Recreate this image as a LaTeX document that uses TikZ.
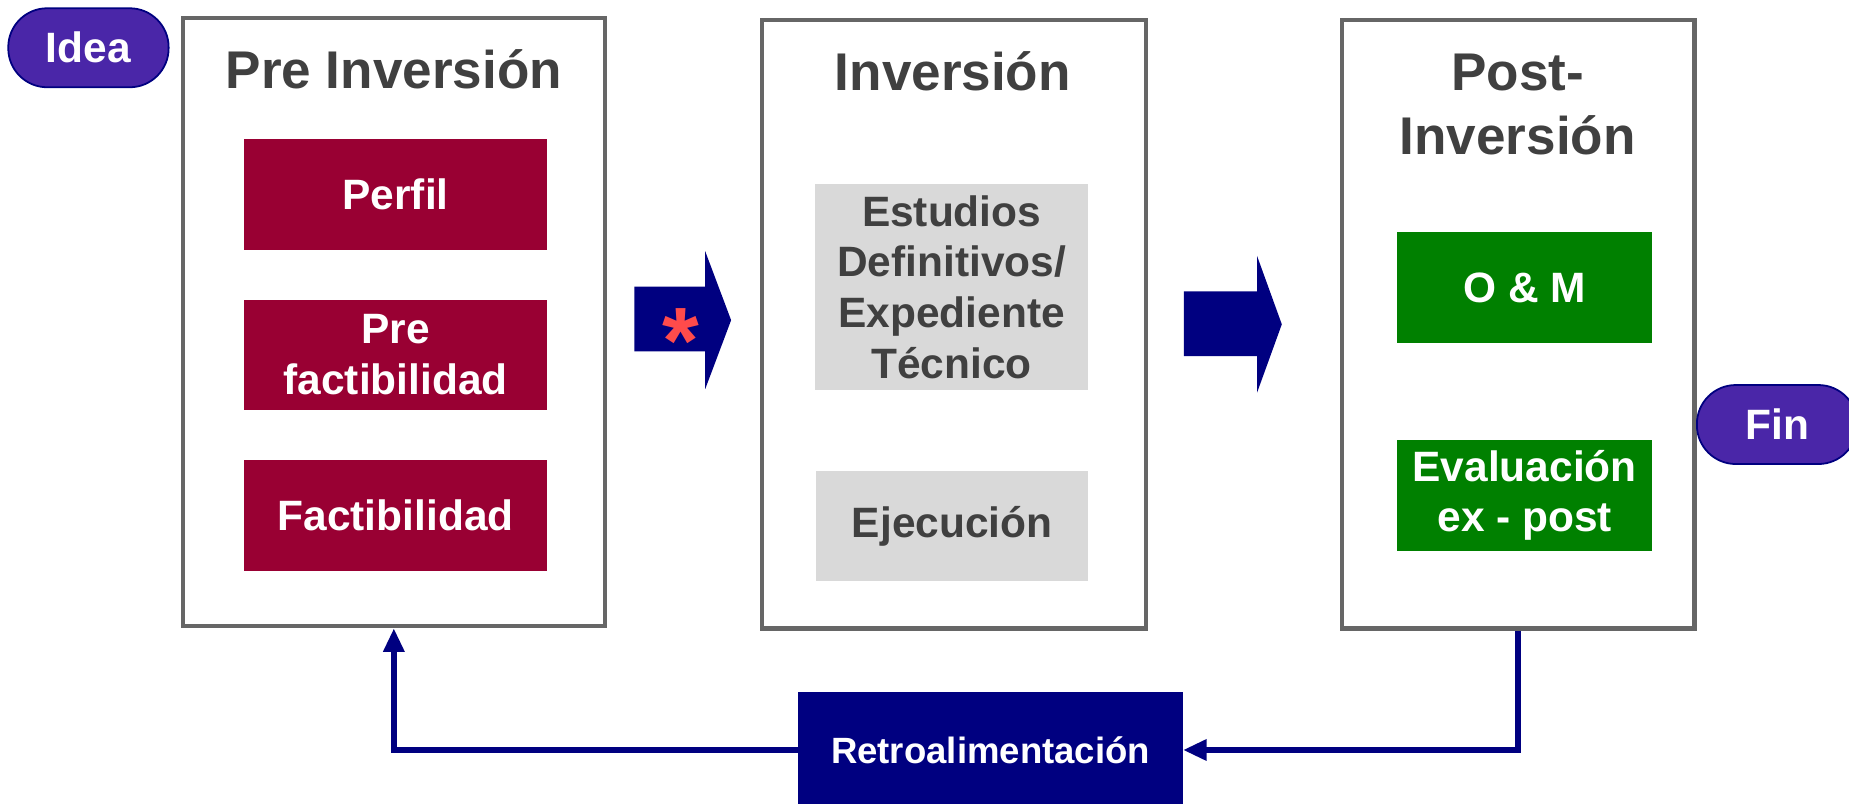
\documentclass[tikz,border=0pt]{standalone}
\usepackage{fontspec}
\setmainfont{Liberation Sans}
\usetikzlibrary{arrows.meta}
\definecolor{preRed}{HTML}{990033}
\definecolor{okGreen}{HTML}{008000}
\definecolor{grayFill}{HTML}{D9D9D9}
\definecolor{navyBlue}{HTML}{000080}
\definecolor{pillPurple}{HTML}{4A26A8}
\definecolor{titleGray}{HTML}{404040}
\definecolor{frameGray}{HTML}{666666}
\definecolor{starRed}{HTML}{FF4B4B}
\begin{document}
\begin{tikzpicture}[x=1pt,y=-1pt,
  frame/.style={draw=frameGray, line width=3.5pt, fill=white, minimum height=516pt, inner sep=0pt},
  phase/.style={font=\bfseries\fontsize{45}{55}\selectfont, text=titleGray, anchor=base, inner sep=0pt},
  stagebox/.style={inner sep=0pt, font=\bfseries\fontsize{36}{43}\selectfont, align=center, minimum height=94pt},
  redbox/.style={stagebox, fill=preRed, text=white, minimum width=257pt},
  graybox/.style={stagebox, fill=grayFill, text=titleGray, minimum width=231pt},
  greenbox/.style={stagebox, fill=okGreen, text=white, minimum width=216pt},
  pill/.style={draw=navyBlue, line width=1.5pt, fill=pillPurple, text=white, rounded corners=33pt,
    minimum width=136pt, minimum height=67pt, inner sep=0pt, font=\bfseries\fontsize{36}{43}\selectfont},
  bigarrow/.style={fill=navyBlue},
  fb/.style={draw=navyBlue, line width=5pt, -{Triangle[length=20pt,width=17pt]}}
]
\useasboundingbox (0,0) rectangle (1568,681);
% phase frames
\node[frame, minimum width=358pt] (pre) at (334,273) {};
\node[frame, minimum width=326pt] (inv) at (809,275) {};
\node[frame, minimum width=299pt] (post) at (1287.5,275) {};
% titles
\node[phase] (preT) at (334,75) {Pre Inversión};
\node[phase] (invT) at (808,77) {Inversión};
\node[phase] (postT1) at (1287,77) {Post-};
\node[phase] (postT2) at (1287,131) {Inversión};
% pre-inversion stages
\node[redbox] (perfil) at (335.5,165) {Perfil};
\node[redbox] (prefact) at (335.5,301) {Pre\\factibilidad};
\node[redbox] (fact) at (335.5,437) {Factibilidad};
% inversion stages
\node[graybox, minimum height=175pt] (estudios) at (807,243.5) {Estudios\\Definitivos/\\Expediente\\Técnico};
\node[graybox] (ejec) at (807.5,446) {Ejecución};
% post stages
\node[greenbox] (om) at (1293,244) {O \& M};
\node[greenbox] (eval) at (1293,420) {Evaluación\\ex - post};
% pills
\node[pill] (idea) at (75,40.5) {Idea};
\node[pill] (fin) at (1507,360) {Fin};
% big arrows
\fill[bigarrow] (538,243) -- (598,243) -- (598,213) -- (620,271.5) -- (598,330) -- (598,298) -- (538,298) -- cycle;
\node[text=starRed, font=\bfseries\fontsize{80}{80}\selectfont, anchor=base, inner sep=0pt] (star) at (577,317) {*};
\fill[bigarrow] (1004,247) -- (1066,247) -- (1066,217) -- (1087,275) -- (1066,333) -- (1066,302) -- (1004,302) -- cycle;
% feedback
\node[fill=navyBlue, text=white, minimum width=326pt, minimum height=98pt, inner sep=0pt,
  font=\bfseries\fontsize{31}{37}\selectfont] (retro) at (840,636) {Retroalimentación};
\draw[fb] (post.south) |- (retro.east);
\draw[fb] (retro.west) -| (pre.south);
\end{tikzpicture}
\end{document}
